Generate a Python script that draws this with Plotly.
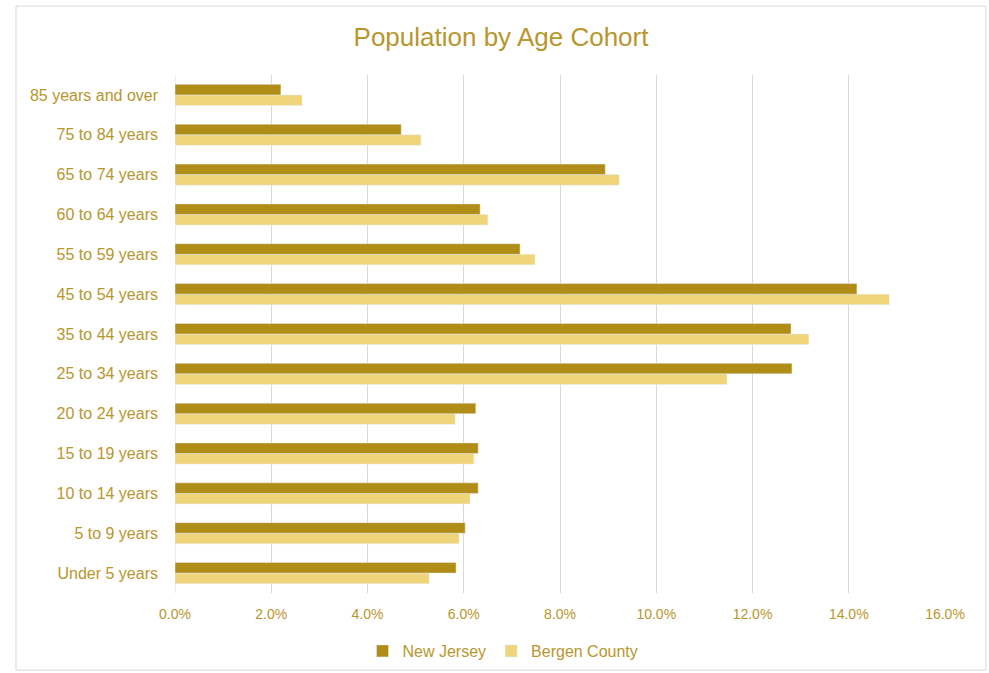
import plotly.graph_objects as go

categories = ["Under 5 years", "5 to 9 years", "10 to 14 years", "15 to 19 years",
              "20 to 24 years", "25 to 34 years", "35 to 44 years", "45 to 54 years",
              "55 to 59 years", "60 to 64 years", "65 to 74 years", "75 to 84 years",
              "85 years and over"]
new_jersey = [5.84, 6.03, 6.30, 6.30, 6.25, 12.82, 12.80, 14.17, 7.17, 6.34, 8.94, 4.70, 2.20]
bergen = [5.28, 5.90, 6.13, 6.21, 5.82, 11.47, 13.17, 14.84, 7.48, 6.50, 9.23, 5.11, 2.64]
tick_vals = [0, 2, 4, 6, 8, 10, 12, 14, 16]
tick_text = ["0.0%", "2.0%", "4.0%", "6.0%", "8.0%", "10.0%", "12.0%", "14.0%", "16.0%"]

dark = "#B08D16"
light = "#F0D47A"
txt = "#B8962E"
font = "Liberation Sans"

fig = go.Figure()
fig.add_trace(go.Bar(y=categories, x=bergen, orientation="h", name="Bergen County",
                     marker_color=light, legendrank=2))
fig.add_trace(go.Bar(y=categories, x=new_jersey, orientation="h", name="New Jersey",
                     marker_color=dark, legendrank=1))

fig.update_layout(
    width=989, height=673,
    paper_bgcolor="white", plot_bgcolor="white",
    barmode="group", bargap=0.47, bargroupgap=0,
    margin=dict(l=175, r=44, t=75, b=80, autoexpand=False),
    font=dict(family=font, color=txt),
    title=dict(text="Population by Age Cohort", x=501 / 989, xanchor="center", y=1 - 37 / 673,
               yanchor="middle", font=dict(size=26, color=txt, family=font)),
    xaxis=dict(range=[0, 16], tickvals=tick_vals, ticktext=tick_text, showgrid=True,
               gridcolor="#D9D9D9", gridwidth=1, zeroline=False, showline=False,
               tickfont=dict(size=14, color=txt), ticks="", automargin=False,
               ticklabelstandoff=11),
    yaxis=dict(showgrid=False, zeroline=False, showline=False, ticks="", automargin=False,
               tickfont=dict(size=16, color=txt), ticklabelstandoff=16),
    legend=dict(orientation="h", x=(503 - 175) / 770, xanchor="center", y=-58 / 518,
                yanchor="middle", font=dict(size=16, color=txt), traceorder="normal",
                itemwidth=30),
    shapes=[dict(type="rect", xref="paper", yref="paper", x0=-0.2065, x1=1.0532,
                 y0=-0.149, y1=1.133,
                 line=dict(color="#D9D9D9", width=1), fillcolor="rgba(0,0,0,0)", layer="below"),
            dict(type="line", xref="x", yref="paper", x0=0, x1=0, y0=0, y1=1,
                 line=dict(color="#D9D9D9", width=1), layer="below")],
)
fig.write_html("out.html", config={"displayModeBar": False},
               post_script="document.body.style.margin='0';")
